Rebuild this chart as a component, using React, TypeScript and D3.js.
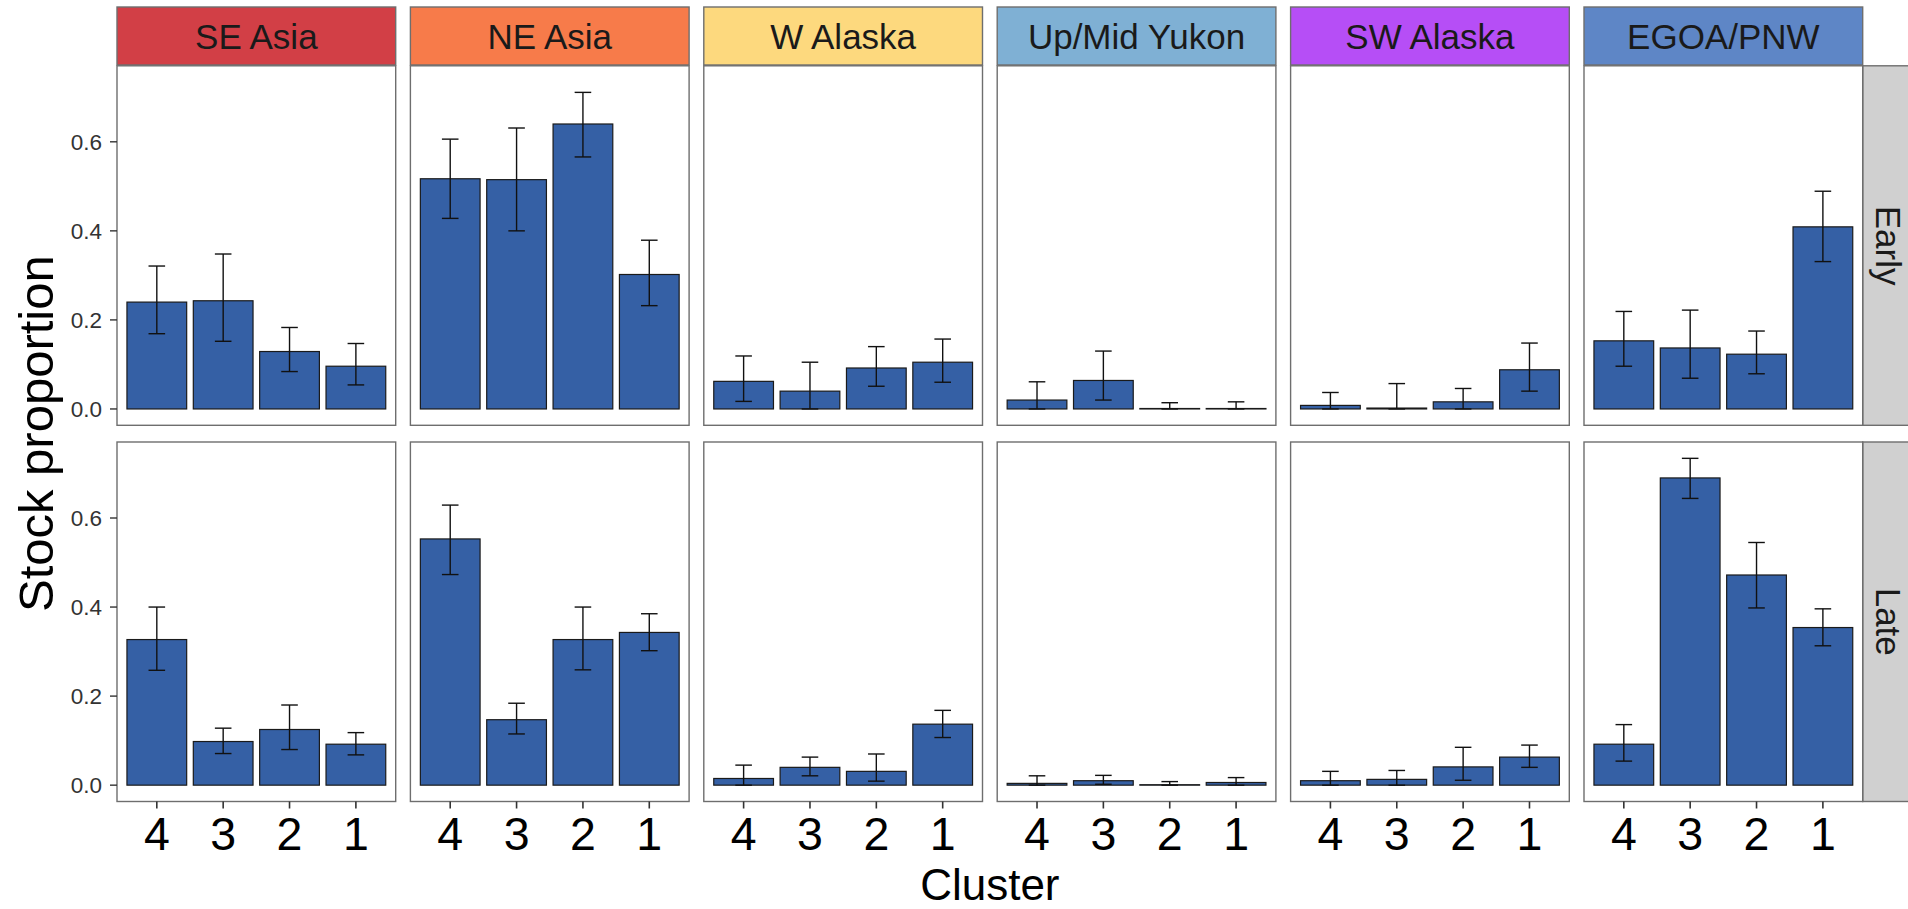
import React from "react";
import * as d3 from "d3";

const regions = ["SE Asia", "NE Asia", "W Alaska", "Up/Mid Yukon", "SW Alaska", "EGOA/PNW"];
const regionColors = ["#D23F46", "#F77B4A", "#FDD97E", "#7FB0D4", "#B64EF6", "#5E86C6"];
const periods = ["Early", "Late"];
const clusters = ["4", "3", "2", "1"];
const yTicks = [0, 0.2, 0.4, 0.6];

// one row per region, one value per cluster (4, 3, 2, 1)
const earlyMean = [
  [0.240, 0.243, 0.129, 0.096],
  [0.517, 0.515, 0.640, 0.302],
  [0.062, 0.040, 0.092, 0.105],
  [0.020, 0.064, 0.001, 0.001],
  [0.008, 0.002, 0.016, 0.088],
  [0.153, 0.137, 0.123, 0.409],
];
const earlyLo = [
  [0.169, 0.152, 0.084, 0.054],
  [0.428, 0.400, 0.566, 0.232],
  [0.017, 0.000, 0.051, 0.060],
  [0.000, 0.020, 0.000, 0.000],
  [0.000, 0.000, 0.000, 0.040],
  [0.096, 0.069, 0.079, 0.331],
];
const earlyHi = [
  [0.321, 0.348, 0.183, 0.147],
  [0.606, 0.631, 0.711, 0.379],
  [0.119, 0.105, 0.140, 0.157],
  [0.061, 0.130, 0.014, 0.016],
  [0.037, 0.057, 0.046, 0.148],
  [0.219, 0.222, 0.175, 0.489],
];
const lateMean = [
  [0.327, 0.098, 0.125, 0.092],
  [0.553, 0.147, 0.327, 0.343],
  [0.015, 0.040, 0.031, 0.137],
  [0.004, 0.010, 0.001, 0.006],
  [0.010, 0.013, 0.041, 0.063],
  [0.092, 0.690, 0.472, 0.354],
];
const lateLo = [
  [0.258, 0.071, 0.080, 0.068],
  [0.473, 0.115, 0.259, 0.302],
  [0.000, 0.021, 0.009, 0.107],
  [0.000, 0.002, 0.000, 0.000],
  [0.000, 0.000, 0.011, 0.040],
  [0.054, 0.644, 0.398, 0.313],
];
const lateHi = [
  [0.400, 0.128, 0.180, 0.118],
  [0.629, 0.184, 0.400, 0.385],
  [0.045, 0.063, 0.070, 0.168],
  [0.021, 0.022, 0.008, 0.017],
  [0.031, 0.033, 0.085, 0.090],
  [0.136, 0.734, 0.545, 0.396],
];

const W = 1908;
const H = 909;
const left = 117;
const panelW = 278.7;
const gapX = 14.7;
const stripTop = 7;
const stripH = 58;
const rowTops = [65.8, 442];
const panelH = 359.5;
const font = "'Liberation Sans', Arial, Helvetica, sans-serif";
const border = "#6e6e6e";

export default function App() {
  const means = [earlyMean, lateMean];
  const los = [earlyLo, lateLo];
  const his = [earlyHi, lateHi];

  const maxV = d3.max(his.flat(2)) as number;
  const pad = maxV * 0.05;
  const y = d3.scaleLinear().domain([-pad, maxV + pad]).range([panelH, 0]);
  const x = d3.scaleBand().domain(clusters).range([0, panelW]).paddingInner(0.1).paddingOuter(0.15);
  const capW = x.step() * 0.25;
  const fmt = d3.format(".1f");
  const panelX = (i: number) => left + i * (panelW + gapX);
  const rightEdge = panelX(regions.length - 1) + panelW;

  return (
    <>
      <style>{`body{margin:0;overflow:hidden;background:#fff}`}</style>
      <svg width={W} height={H} style={{ display: "block", fontFamily: font }}>
        <rect width={W} height={H} fill="#fff" />

        {/* column strips */}
        {regions.map((r, i) => (
          <g key={r} transform={`translate(${panelX(i)},${stripTop})`}>
            <rect width={panelW} height={stripH} fill={regionColors[i]} stroke={border} strokeWidth={1.4} />
            <text x={panelW / 2} y={42} textAnchor="middle" fontSize={35} fill="#1a1a1a">{r}</text>
          </g>
        ))}

        {/* row strips */}
        {periods.map((p, j) => (
          <g key={p} transform={`translate(${rightEdge},${rowTops[j]})`}>
            <rect width={60} height={panelH} fill="#d0d0d0" stroke={border} strokeWidth={1.4} />
            <text transform={`translate(13,${panelH / 2}) rotate(90)`} textAnchor="middle" fontSize={35} fill="#1a1a1a">{p}</text>
          </g>
        ))}

        {periods.map((p, j) =>
          regions.map((r, i) => (
            <g key={p + r} transform={`translate(${panelX(i)},${rowTops[j]})`}>
              <rect width={panelW} height={panelH} fill="#fff" />
              {clusters.map((c, k) => {
                const v = means[j][i][k];
                const bx = x(c) as number;
                const cx = bx + x.bandwidth() / 2;
                return (
                  <g key={c}>
                    <rect x={bx} y={y(v)} width={x.bandwidth()} height={y(0) - y(v)} fill="#3560a5" stroke="#1a1a1a" strokeWidth={1.2} />
                    <g stroke="#111" strokeWidth={1.4} fill="none">
                      <line x1={cx} x2={cx} y1={y(los[j][i][k])} y2={y(his[j][i][k])} />
                      <line x1={cx - capW / 2} x2={cx + capW / 2} y1={y(los[j][i][k])} y2={y(los[j][i][k])} />
                      <line x1={cx - capW / 2} x2={cx + capW / 2} y1={y(his[j][i][k])} y2={y(his[j][i][k])} />
                    </g>
                  </g>
                );
              })}
              <rect width={panelW} height={panelH} fill="none" stroke={border} strokeWidth={1.4} />

              {/* y axis on first column */}
              {i === 0 &&
                yTicks.map((t) => (
                  <g key={t} transform={`translate(0,${y(t)})`}>
                    <line x1={-7} x2={0} stroke="#333" strokeWidth={1.4} />
                    <text x={-15} dy="0.36em" textAnchor="end" fontSize={22.5} fill="#333">{fmt(t)}</text>
                  </g>
                ))}

              {/* x axis on bottom row */}
              {j === periods.length - 1 &&
                clusters.map((c) => {
                  const cx = (x(c) as number) + x.bandwidth() / 2;
                  return (
                    <g key={c} transform={`translate(${cx},${panelH})`}>
                      <line y1={0} y2={7} stroke="#333" strokeWidth={1.6} />
                      <text y={48.5} textAnchor="middle" fontSize={46.5} fill="#000">{c}</text>
                    </g>
                  );
                })}
            </g>
          ))
        )}

        <text x={(left + rightEdge) / 2} y={899.5} textAnchor="middle" fontSize={44} fill="#000">Cluster</text>
        <text transform={`translate(53,${(rowTops[0] + rowTops[1] + panelH) / 2}) rotate(-90)`} textAnchor="middle" fontSize={49} fill="#000">
          Stock proportion
        </text>
      </svg>
    </>
  );
}
